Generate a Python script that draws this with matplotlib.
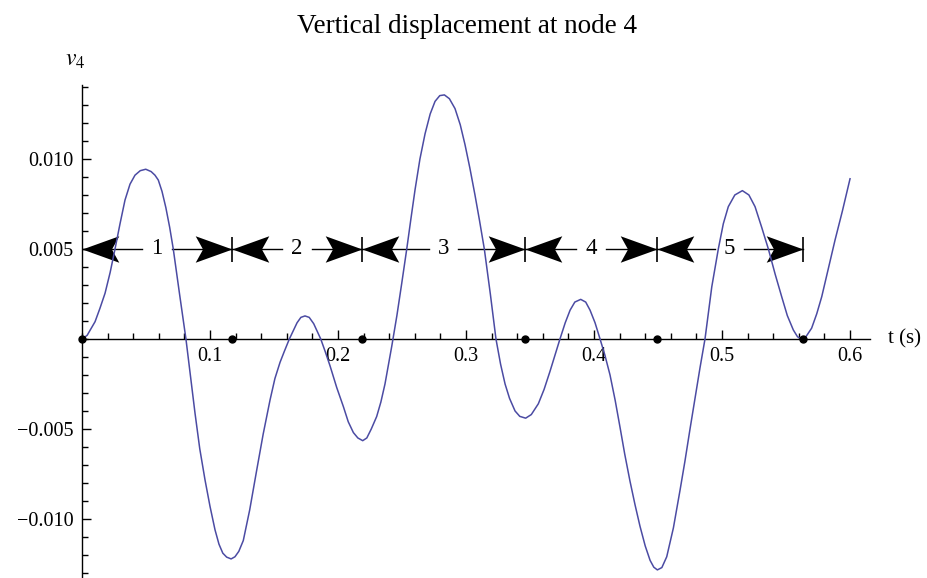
import matplotlib
matplotlib.use("Agg")
import matplotlib.pyplot as plt
from matplotlib.path import Path
from matplotlib.ticker import MultipleLocator

plt.rcParams['font.family'] = ['Liberation Serif', 'DejaVu Serif']
plt.rcParams['mathtext.fontset'] = "stix"

# displacement
t = [0.000, 0.004, 0.0102, 0.014, 0.018, 0.022, 0.0258, 0.0297, 0.0336, 0.0375,
     0.0414, 0.0455, 0.0498, 0.054, 0.057, 0.0596, 0.0625, 0.0655, 0.0685, 0.0713,
     0.0762, 0.0812, 0.0848, 0.0883, 0.092, 0.0961, 0.100, 0.1039, 0.107, 0.110,
     0.113, 0.1165, 0.1195, 0.1225, 0.126, 0.131, 0.1365, 0.1415, 0.1469, 0.1507,
     0.1547, 0.158, 0.162, 0.168, 0.171, 0.1742, 0.1775, 0.181, 0.1865, 0.190,
     0.1938, 0.199, 0.2042, 0.208, 0.212, 0.2155, 0.2193, 0.2225, 0.226, 0.2302,
     0.2335, 0.2367, 0.240, 0.242, 0.246, 0.2498, 0.2537, 0.257, 0.2602, 0.264,
     0.268, 0.272, 0.2758, 0.2795, 0.2831, 0.287, 0.2914, 0.2955, 0.2992, 0.303,
     0.307, 0.3105, 0.3143, 0.319, 0.3234, 0.327, 0.3305, 0.334, 0.3383, 0.342,
     0.3466, 0.351, 0.3565, 0.361, 0.3656, 0.3695, 0.3734, 0.3775, 0.3813, 0.385,
     0.3896, 0.3935, 0.3969, 0.4008, 0.4047, 0.4085, 0.4125, 0.4165, 0.4203, 0.424,
     0.4281, 0.432, 0.4359, 0.440, 0.4438, 0.4467, 0.4495, 0.453, 0.4568, 0.462,
     0.4672, 0.471, 0.475, 0.4789, 0.4828, 0.4867, 0.492, 0.4971, 0.501, 0.5049,
     0.510, 0.5159, 0.521, 0.5258, 0.531, 0.5362, 0.5415, 0.5466, 0.551, 0.5557,
     0.559, 0.5622, 0.5655, 0.570, 0.574, 0.5779, 0.583, 0.5883, 0.594, 0.600]
v4 = [0.0, 0.0002, 0.00096, 0.0017, 0.00254, 0.0037, 0.0050, 0.0064, 0.00772, 0.0086,
      0.0091, 0.00935, 0.00943, 0.0093, 0.0091, 0.00883, 0.0082, 0.0073, 0.0062, 0.0050,
      0.0025, 0.0, -0.0021, -0.00413, -0.0061, -0.00783, -0.0093, -0.0106, -0.0114, -0.0119,
      -0.01212, -0.01222, -0.0121, -0.0118, -0.0112, -0.0095, -0.00728, -0.0053, -0.00339, -0.0022,
      -0.0013, -0.0007, 0.0, 0.0009, 0.0012, 0.00128, 0.0012, 0.00085, 0.0, -0.0007,
      -0.0015, -0.0027, -0.00376, -0.0046, -0.0052, -0.0055, -0.00565, -0.0055, -0.0050, -0.00431,
      -0.0035, -0.0025, -0.0012, -0.0004, 0.0013, 0.0031, 0.0050, 0.0067, 0.0083, 0.0100,
      0.0114, 0.0125, 0.0132, 0.01352, 0.01356, 0.01335, 0.0128, 0.0119, 0.0108, 0.0095,
      0.0080, 0.0066, 0.0050, 0.0025, 0.0, -0.0014, -0.0025, -0.0033, -0.0040, -0.0043,
      -0.0044, -0.0042, -0.0036, -0.0028, -0.0018, -0.0009, 0.0, 0.0009, 0.0016, 0.00205,
      0.0022, 0.00205, 0.0016, 0.0009, 0.0, -0.0009, -0.0020, -0.0034, -0.0049, -0.0064,
      -0.0079, -0.0092, -0.0104, -0.0115, -0.0123, -0.01268, -0.01283, -0.0127, -0.0121, -0.0105,
      -0.0084, -0.0068, -0.0050, -0.0033, -0.0016, 0.0, 0.0029, 0.0050, 0.0064, 0.00735,
      0.0080, 0.00824, 0.0080, 0.00735, 0.0062, 0.0050, 0.0036, 0.00235, 0.0013, 0.0005,
      0.00012, 0.0, 0.00012, 0.0006, 0.0014, 0.00235, 0.0039, 0.0055, 0.0071, 0.0089]

# element boundaries and labels
bounds = [0.0, 0.117, 0.219, 0.346, 0.449, 0.563]
elem_labels = ['1', '2', '3', '4', '5']
arrow_level = 0.005

xticks = [0.1, 0.2, 0.3, 0.4, 0.5, 0.6]
xticklabels = ['0.1', '0.2', '0.3', '0.4', '0.5', '0.6']
yticks = [-0.010, -0.005, 0.005, 0.010]
yticklabels = ['\u22120.010', '\u22120.005', '0.005', '0.010']

fig = plt.figure(figsize=(9.27, 5.78), dpi=100)
ax = fig.add_axes([82/927, 0, 788/927, 493/578])
ax.set_xlim(0, 0.6156)
ax.set_ylim(-0.01328, 0.01411)

ax.spines['bottom'].set_position(('data', 0))
ax.spines['top'].set_visible(False)
ax.spines['right'].set_visible(False)
for s in ['left', 'bottom']:
    ax.spines[s].set_linewidth(1.0)

ax.set_xticks(xticks)
ax.set_xticklabels(xticklabels)
ax.set_yticks(yticks)
ax.set_yticklabels(yticklabels)
ax.xaxis.set_minor_locator(MultipleLocator(0.02))
ax.yaxis.set_minor_locator(MultipleLocator(0.001))
ax.tick_params(which='major', direction='in', length=6.5, width=1.0, labelsize=14.5)
ax.tick_params(which='minor', direction='in', length=4, width=1.0)
ax.tick_params(axis='x', pad=6)
ax.tick_params(axis='y', pad=6)

ax.plot(t, v4, color='#4b4ba3', lw=1.1, zorder=4, clip_on=False,
        solid_joinstyle='round')

# arrowheads (concave back, tip at origin)
codes = [Path.MOVETO, Path.LINETO, Path.LINETO, Path.LINETO, Path.CLOSEPOLY]
right_head = Path([(0, 0), (-1, 0.36), (-0.8, 0), (-1, -0.36), (0, 0)], codes)
left_head = Path([(0, 0), (1, 0.36), (0.8, 0), (1, -0.36), (0, 0)], codes)

gap = 0.0115
for i, lab in enumerate(elem_labels):
    a, b = bounds[i], bounds[i + 1]
    mid = (a + b) / 2
    ax.plot([a, mid - gap], [arrow_level, arrow_level], color='black', lw=1.0, zorder=3)
    ax.plot([mid + gap, b], [arrow_level, arrow_level], color='black', lw=1.0, zorder=3)
    ax.plot([a], [arrow_level], marker=left_head, ms=53, color='black', mew=0, zorder=3)
    ax.plot([b], [arrow_level], marker=right_head, ms=53, color='black', mew=0, zorder=3)
    ax.text(mid, arrow_level, lab, ha='center', va='center', fontsize=16.5, zorder=3)

ax.plot(bounds[1:], [arrow_level] * 5, marker='|', ms=18, mew=1.2, ls='none', color='black', zorder=3)
ax.plot(bounds, [0] * len(bounds), 'o', ms=5, color='black', zorder=5, clip_on=False)

ax.annotate('t (s)', xy=(1, 0), xycoords=('axes fraction', 'data'), xytext=(13, 0),
            textcoords='offset points', ha='left', va='center', fontsize=15)
ax.annotate(r'$v_4$', xy=(0, 1), xycoords='axes fraction', xytext=(-5, 10),
            textcoords='offset points', ha='center', va='bottom', fontsize=17)

fig.text(467/927, 545/578, 'Vertical displacement at node 4', ha='center', va='baseline', fontsize=19.5)

fig.savefig('out.png', dpi=100)
